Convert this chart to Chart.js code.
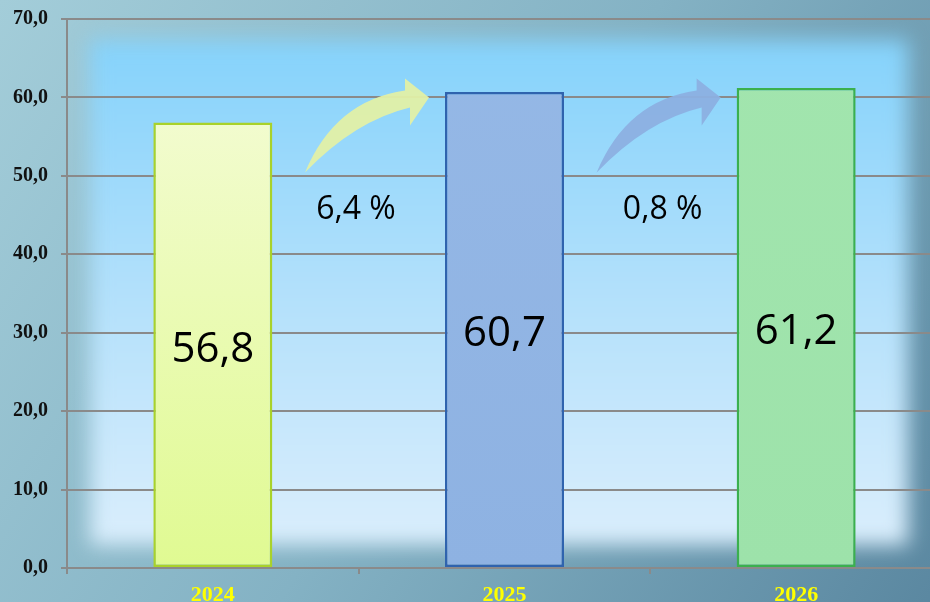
<!DOCTYPE html>
<html>
<head>
<meta charset="utf-8">
<script src="https://cdn.jsdelivr.net/npm/chart.js@4/dist/chart.umd.min.js"></script>
<style>
  html, body { margin: 0; padding: 0; overflow: hidden; background: #7aa6b8; }
  #wrap { width: 942px; height: 602px; }
</style>
</head>
<body>
<div id="wrap"><canvas id="growth" width="942" height="602"></canvas></div>
<script>
const years = ["2024", "2025", "2026"];
const values = [56.8, 60.7, 61.2];
const growthLabels = ["6,4 %", "0,8 %"];
const yTicks = [0, 10, 20, 30, 40, 50, 60, 70];

const fmt = (v) => v.toFixed(1).replace(".", ",");

// frame + glowing panel behind the plot
const backdrop = {
  id: "backdrop",
  beforeDraw(chart) {
    const ctx = chart.ctx;
    const w = chart.width, h = chart.height;
    ctx.save();
    let g = ctx.createLinearGradient(0, 0, w, h);
    g.addColorStop(0, "#a3cdd9");
    g.addColorStop(0.5, "#84b2c4");
    g.addColorStop(1, "#5a87a0");
    ctx.fillStyle = g;
    ctx.fillRect(0, 0, w, h);

    ctx.filter = "blur(10px)";
    g = ctx.createLinearGradient(0, 35, 0, 550);
    g.addColorStop(0, "#84d2fb");
    g.addColorStop(0.5, "#b2e0fb");
    g.addColorStop(1, "#dbeefc");
    ctx.fillStyle = g;
    ctx.fillRect(90, 40, 818, 505);
    ctx.restore();
  }
};

// curved arrows, growth percentages and values inside the bars
const notes = {
  id: "notes",
  afterDatasetsDraw(chart) {
    const ctx = chart.ctx;
    const y = chart.scales.y;
    const meta = chart.getDatasetMeta(0);
    const arrowColors = ["rgba(226,240,166,0.95)", "rgba(140,176,226,0.95)"];
    const labelShift = [-73, -58];
    ctx.save();

    for (let i = 0; i < growthLabels.length; i++) {
      const next = meta.data[i + 1];
      const tx = next.x - next.width / 2 - 16;
      const ty = y.getPixelForValue(60);
      ctx.fillStyle = arrowColors[i];
      ctx.beginPath();
      ctx.moveTo(tx - 124, ty + 75);
      ctx.quadraticCurveTo(tx - 94, ty + 3, tx - 24, ty - 7);
      ctx.lineTo(tx - 24, ty - 19);
      ctx.lineTo(tx, ty);
      ctx.lineTo(tx - 19, ty + 28);
      ctx.lineTo(tx - 19, ty + 10);
      ctx.quadraticCurveTo(tx - 74, ty + 23, tx - 124, ty + 75);
      ctx.closePath();
      ctx.fill();

      ctx.fillStyle = "#000";
      ctx.font = "32px 'Open Sans'";
      ctx.textAlign = "center";
      ctx.textBaseline = "middle";
      ctx.fillText(growthLabels[i], tx + labelShift[i], ty + 112);
    }

    ctx.font = "42px 'Open Sans'";
    ctx.fillStyle = "#000";
    ctx.textAlign = "center";
    ctx.textBaseline = "middle";
    meta.data.forEach((bar, i) => {
      ctx.fillText(fmt(values[i]), bar.x, (bar.y + bar.base) / 2 + 5);
    });
    ctx.restore();
  }
};

const fills = [
  ["#f6fcdc", "#e0fa92"],
  ["#95b8e6", "#8eb2e2"],
  ["#a2e5ae", "#9de2aa"]
];

new Chart(document.getElementById("growth"), {
  type: "bar",
  data: {
    labels: years,
    datasets: [{
      data: values,
      backgroundColor: (c) => {
        const area = c.chart.chartArea;
        if (!area) return fills[c.dataIndex][1];
        const g = c.chart.ctx.createLinearGradient(0, area.top, 0, area.bottom);
        g.addColorStop(0, fills[c.dataIndex][0]);
        g.addColorStop(1, fills[c.dataIndex][1]);
        return g;
      },
      borderColor: ["#a9d22a", "#2f63ae", "#3bb04e"],
      borderWidth: 2.5,
      borderSkipped: false,
      categoryPercentage: 1,
      barPercentage: 0.408
    }]
  },
  options: {
    responsive: false,
    animation: false,
    devicePixelRatio: 1,
    layout: { padding: { top: 19, right: 0, left: 0, bottom: 0 } },
    plugins: { legend: { display: false }, tooltip: { enabled: false } },
    scales: {
      y: {
        min: 0,
        max: 70,
        afterFit: (s) => { s.width = 67; s.paddingTop = 0; s.paddingBottom = 0; },
        afterBuildTicks: (s) => { s.ticks = yTicks.map((v) => ({ value: v })); },
        ticks: {
          padding: 13,
          color: "#111",
          font: { family: "'Liberation Serif'", size: 20, weight: "bold" },
          callback: (v) => fmt(v)
        },
        grid: { color: "#8a8a8a", lineWidth: 2, tickLength: 6 },
        border: { color: "#8a8a8a", width: 2 }
      },
      x: {
        afterFit: (s) => { s.height = 34; s.paddingLeft = 0; s.paddingRight = 0; },
        ticks: {
          padding: 8,
          color: "#ffff00",
          font: { family: "'Liberation Serif'", size: 22, weight: "bold" }
        },
        grid: { drawOnChartArea: false, color: "#8a8a8a", lineWidth: 2, tickLength: 6 },
        border: { color: "#8a8a8a", width: 2 }
      }
    }
  },
  plugins: [backdrop, notes]
});
</script>
</body>
</html>
